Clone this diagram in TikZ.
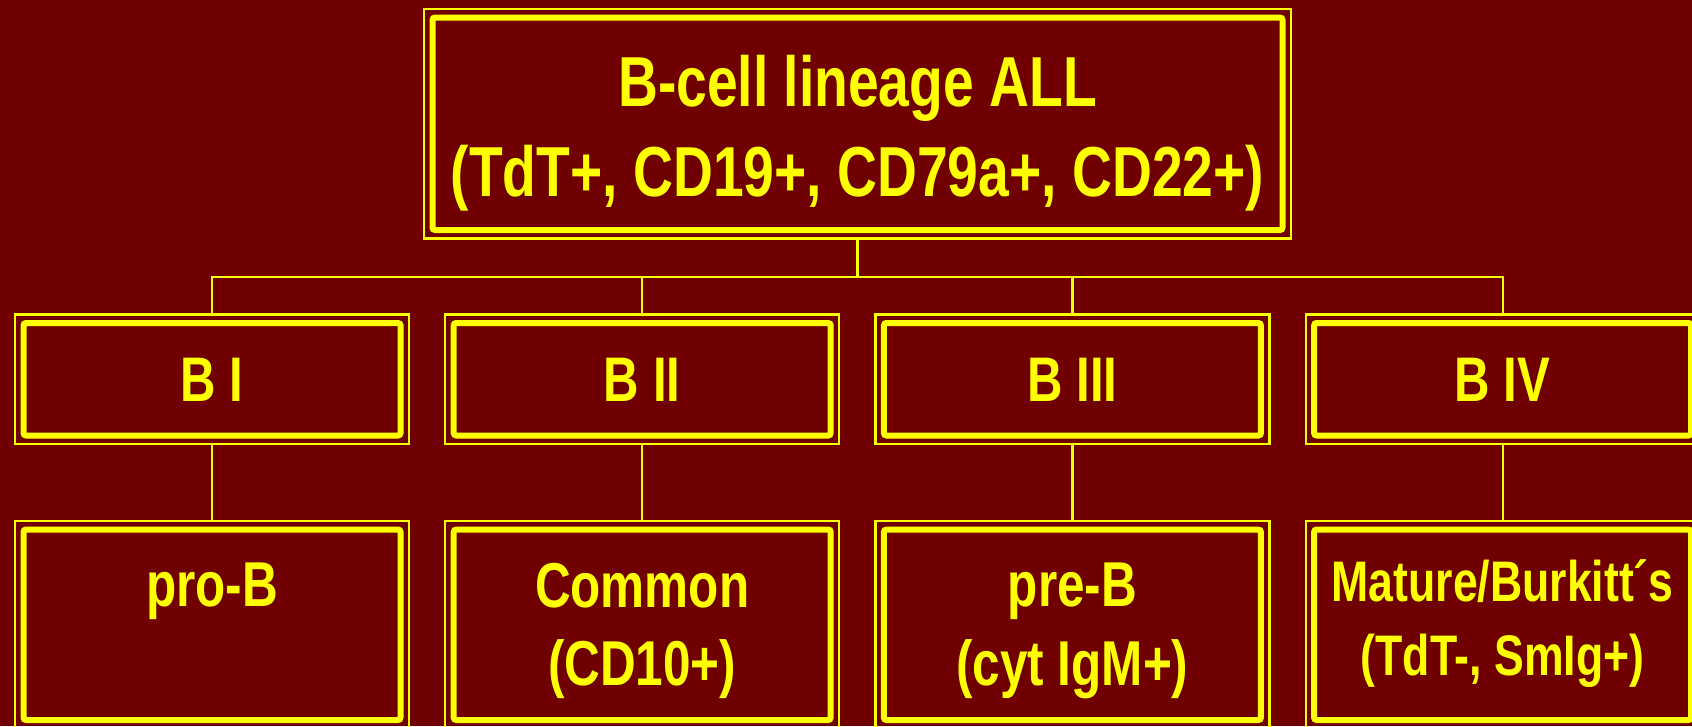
\documentclass[tikz,border=0pt]{standalone}
\usepackage{fontspec}
\setmainfont{Liberation Sans}[FakeStretch=0.78]
\definecolor{bg}{HTML}{700000}
\definecolor{yl}{HTML}{FFFF00}
\tikzset{
  framebox/.style={draw=yl, line width=2.2pt, outer sep=0pt, inner sep=0pt,
    path picture={\draw[yl, line width=6pt, rounded corners=2.5pt]
      ([shift={(8.5pt,-8.5pt)}]path picture bounding box.north west) rectangle
      ([shift={(-8.5pt,8.5pt)}]path picture bounding box.south east);}},
  topbox/.style={framebox, minimum width=867pt, minimum height=229.5pt},
  midbox/.style={framebox, minimum width=394pt, minimum height=129.5pt},
  lowbox/.style={framebox, minimum width=394pt, minimum height=207.5pt},
  conn/.style={draw=yl, line width=2.2pt},
  lbl/.style={text=yl, inner sep=0pt, anchor=base, font=\bfseries\fontsize{#1}{#1}\selectfont},
}
\begin{document}
\begin{tikzpicture}[x=1pt, y=-1pt]
  \useasboundingbox (0,0) rectangle (1692,726);
  \clip (0,0) rectangle (1692,726);
  \fill[bg] (0,0) rectangle (1692,726);

  % boxes
  \node[topbox] (top) at (857.5,123.75) {};
  \node[midbox] (b1) at (212,379.25) {};
  \node[midbox] (b2) at (642.2,379.25) {};
  \node[midbox] (b3) at (1072.4,379.25) {};
  \node[midbox] (b4) at (1502.6,379.25) {};
  \node[lowbox] (c1) at (212,624.75) {};
  \node[lowbox] (c2) at (642.2,624.75) {};
  \node[lowbox] (c3) at (1072.4,624.75) {};
  \node[lowbox] (c4) at (1502.6,624.75) {};

  % connectors
  \coordinate (bus) at (857.5,277);
  \draw[conn] (top.south) -- (bus);
  \draw[conn] (b1.north) -- (b1.north |- bus) -- (b4.north |- bus) -- (b4.north);
  \draw[conn] (b2.north) -- (b2.north |- bus);
  \draw[conn] (b3.north) -- (b3.north |- bus);
  \draw[conn] (b1.south) -- (c1.north);
  \draw[conn] (b2.south) -- (c2.north);
  \draw[conn] (b3.south) -- (c3.north);
  \draw[conn] (b4.south) -- (c4.north);

  % labels
  \node[lbl=70.8] (t1) at (857.5,106) {B-cell lineage ALL};
  \node[lbl=70.8] (t2) at (857.5,196) {(TdT+, CD19+, CD79a+, CD22+)};

  \node[lbl=63] (l1) at (212,401) {B I};
  \node[lbl=63] (l2) at (642.2,401) {B II};
  \node[lbl=63] (l3) at (1072.4,401) {B III};
  \node[lbl=63] (l4) at (1502.6,401) {B IV};

  \node[lbl=63.4] (p1) at (212,606.7) {pro-B};
  \node[lbl=63.4] (q1) at (642.2,607) {Common};
  \node[lbl=63.4] (q2) at (642.2,685.7) {(CD10+)};
  \node[lbl=63.4] (r1) at (1072.4,606.7) {pre-B};
  \node[lbl=63.4] (r2) at (1072.4,685.7) {(cyt IgM+)};
  \node[lbl=57.2] (s1) at (1502.6,601.7) {Mature/Burkitt´s};
  \node[lbl=57.2] (s2) at (1502.6,675) {(TdT-, SmIg+)};
\end{tikzpicture}
\end{document}
